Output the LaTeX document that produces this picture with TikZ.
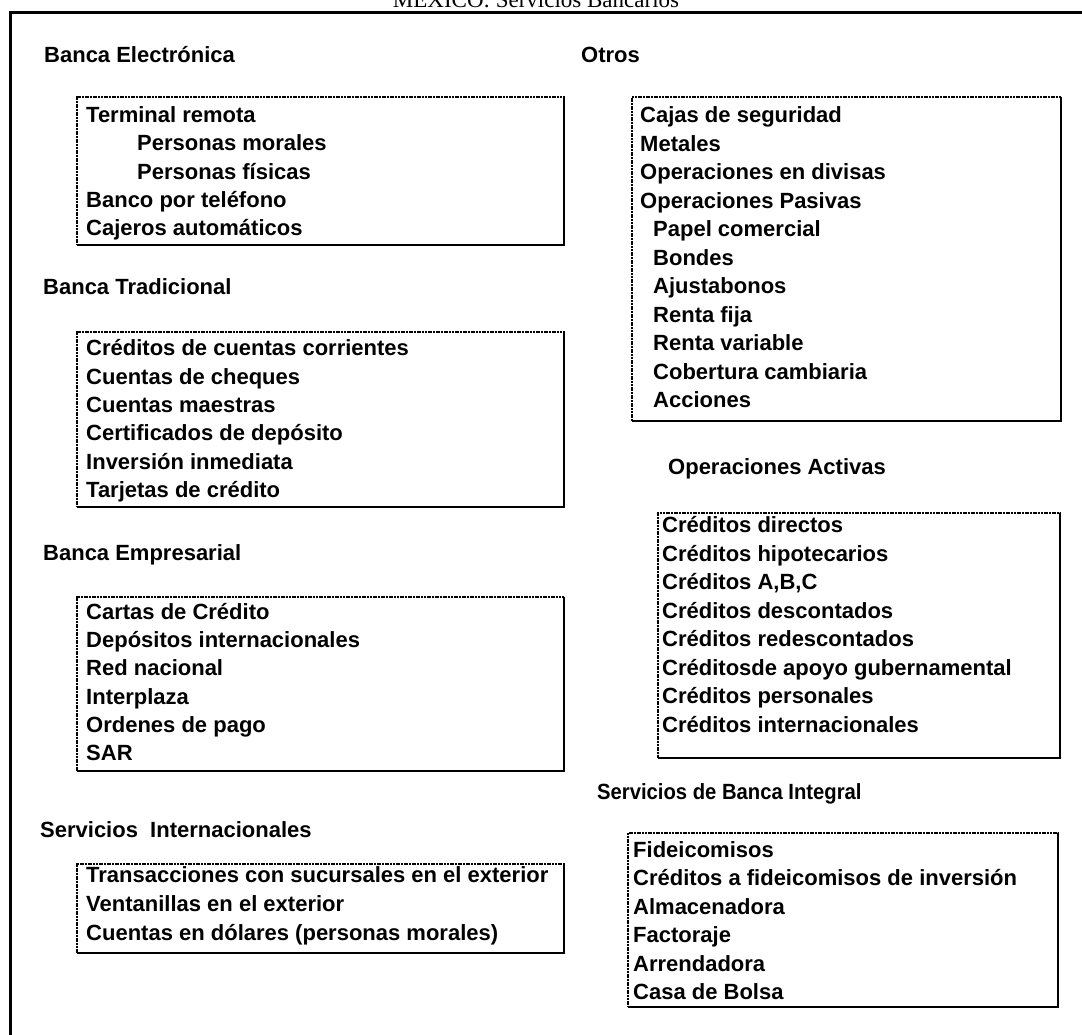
\documentclass[tikz,border=0pt]{standalone}
\usepackage{fontspec}
\setmainfont{Liberation Sans}
\newfontfamily\titlefont{Liberation Serif}
\newfontfamily\condfont{Liberation Sans}[FakeStretch=0.92]
\tikzset{
  item/.style={font=\bfseries\fontsize{22}{26}\selectfont, inner sep=0pt, anchor=base west},
  head/.style={item},
  listbox/.style={draw, line width=1.3pt, dash pattern=on 2pt off 0.7pt, anchor=north west, inner sep=0pt, outer sep=0pt},
  heavyedge/.style={line width=2.2pt, line join=miter},
  frameline/.style={line width=3pt}
}
\begin{document}
\begin{tikzpicture}[x=1pt,y=-1pt]
\useasboundingbox (0,0) rectangle (1082,1034);
\clip (0,0) rectangle (1082,1034);
% title and outer frame
\node[font=\titlefont\fontsize{23}{26}\selectfont, anchor=base, inner sep=0pt] (title) at (536,7) {MEXICO: Servicios Bancarios};
\coordinate (fa) at (10,1050);
\coordinate (fb) at (10,12);
\coordinate (fc) at (1100,12);
\draw[frameline] (fa) -- (fb) -- (fc);

% boxes
\node[listbox, minimum width=487, minimum height=148] (b1) at (77,97) {};
\node[listbox, minimum width=487, minimum height=175] (b2) at (77,332) {};
\node[listbox, minimum width=487, minimum height=174] (b3) at (77,597) {};
\node[listbox, minimum width=487, minimum height=89] (b4) at (77,864) {};
\node[listbox, minimum width=429, minimum height=324] (bo) at (632,97) {};
\node[listbox, minimum width=402, minimum height=245] (ba) at (658,513) {};
\node[listbox, minimum width=430, minimum height=174] (bs) at (628,833) {};
\foreach \b in {b1,b2,b3,b4,bo,ba,bs}
  \draw[heavyedge] (\b.north east) -- (\b.south east) -- (\b.south west);

% headers
\node[head] (h1) at (44,62) {Banca Electrónica};
\node[head] (h2) at (43,294) {Banca Tradicional};
\node[head] (h3) at (43,560) {Banca Empresarial};
\node[head] (h4) at (40,837) {Servicios\ \ Internacionales};
\node[head] (h5) at (581,62) {Otros};
\node[head] (h6) at (668,474) {Operaciones Activas};
\node[head, font=\condfont\bfseries\fontsize{22}{26}\selectfont] (h7) at (597,799) {Servicios de Banca Integral};

% items
\foreach \x/\y/\t [count=\i] in {86/122.5/Terminal remota, 137/150.5/Personas morales, 137/179.5/Personas físicas, 86/207.5/Banco por teléfono, 86/235.5/Cajeros automáticos}
  \node[item] (b1-\i) at (\x,\y) {\t};
\foreach \y/\t [count=\i] in {355.5/Créditos de cuentas corrientes, 384.5/Cuentas de cheques, 412.5/Cuentas maestras, 440.5/Certificados de depósito, 469.5/Inversión inmediata, 497.5/Tarjetas de crédito}
  \node[item] (b2-\i) at (86,\y) {\t};
\foreach \y/\t [count=\i] in {619.5/Cartas de Crédito, 647.5/Depósitos internacionales, 675.5/Red nacional, 704.5/Interplaza, 732.5/Ordenes de pago, 760.5/SAR}
  \node[item] (b3-\i) at (86,\y) {\t};
\foreach \y/\t [count=\i] in {882.5/Transacciones con sucursales en el exterior, 911.5/Ventanillas en el exterior, 940.5/Cuentas en dólares (personas morales)}
  \node[item] (b4-\i) at (86,\y) {\t};
\foreach \x/\y/\t [count=\i] in {640/122.5/Cajas de seguridad, 640/151/Metales, 640/179.5/Operaciones en divisas, 640/208/Operaciones Pasivas, 653/236.5/Papel comercial, 653/265/Bondes, 653/293.5/Ajustabonos, 653/322/Renta fija, 653/350.5/Renta variable, 653/379/Cobertura cambiaria, 653/407.5/Acciones}
  \node[item] (bo-\i) at (\x,\y) {\t};
\foreach \y/\t [count=\i] in {532.5/Créditos directos, 561/Créditos hipotecarios, 589.5/Créditos A{,}B{,}C, 618/Créditos descontados, 646.5/Créditos redescontados, 675/Créditosde apoyo gubernamental, 703.5/Créditos personales, 732/Créditos internacionales}
  \node[item] (ba-\i) at (662,\y) {\t};
\foreach \y/\t [count=\i] in {857.5/Fideicomisos, 885.9/Créditos a fideicomisos de inversión, 914.3/Almacenadora, 942.7/Factoraje, 971.1/Arrendadora, 999.5/Casa de Bolsa}
  \node[item] (bs-\i) at (633,\y) {\t};
\end{tikzpicture}
\end{document}
